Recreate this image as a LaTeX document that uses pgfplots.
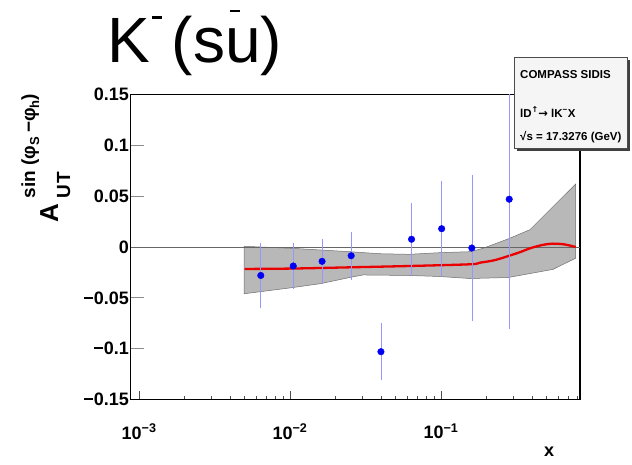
\documentclass[border=0pt]{standalone}
\usepackage{pgfplots}
\pgfplotsset{compat=1.18}
\usepackage{fontspec}
\setmainfont{Liberation Sans}
\newfontfamily\arrowfont{DejaVu Sans}

\definecolor{bandgray}{RGB}{184,184,184}
\definecolor{banddraw}{RGB}{110,110,110}
\definecolor{errblue}{RGB}{150,150,255}
\definecolor{pointblue}{RGB}{0,0,245}
\definecolor{curvered}{RGB}{235,0,0}

\begin{document}
\begin{tikzpicture}[x=1pt,y=1pt]
\useasboundingbox (0,0) rectangle (632,464);
\begin{axis}[
  at={(130.7pt,64.5pt)}, anchor=south west,
  scale only axis, width=449.3pt, height=305pt,
  xmode=log, xmin=8.8e-4, xmax=0.833,
  ymin=-0.15, ymax=0.15,
  axis line style={black, line width=1.3pt},
  xtick={0.001,0.01,0.1},
  xticklabels={10\textsuperscript{−3},10\textsuperscript{−2},10\textsuperscript{−1}},
  minor xtick={0.002,0.003,0.004,0.005,0.006,0.007,0.008,0.009,
               0.02,0.03,0.04,0.05,0.06,0.07,0.08,0.09,
               0.2,0.3,0.4,0.5,0.6,0.7,0.8},
  ytick={-0.15,-0.1,-0.05,0,0.05,0.1,0.15},
  yticklabels={−0.15,−0.1,−0.05,0,0.05,0.1,0.15},
  tick pos=left, tick align=inside,
  xtick style={black!70, line width=0.8pt, /pgfplots/major tick length=8.5pt, /pgfplots/minor tick length=4pt},
  ytick style={black!45, line width=0.9pt, /pgfplots/major tick length=13pt},
  ticklabel style={font=\fontsize{18}{18}\selectfont\bfseries},
  yticklabel style={inner sep=1.5pt},
  xticklabel style={yshift=-21pt},
  clip=true,
]
% uncertainty band of the fit
\addplot[fill=bandgray, draw=banddraw, line width=0.5pt] coordinates {
  (0.00496,0.0007) (0.0103,-0.0013) (0.0248,-0.0046) (0.039,-0.0066)
  (0.0614,-0.0072) (0.0975,-0.0056) (0.156,-0.0046) (0.19,-0.0013)
  (0.279,0.008) (0.388,0.017) (0.78,0.062)
  (0.78,-0.011) (0.552,-0.022) (0.279,-0.030) (0.156,-0.031)
  (0.0975,-0.029) (0.0614,-0.028) (0.0304,-0.0275) (0.0248,-0.030)
  (0.016,-0.036) (0.0103,-0.040) (0.00496,-0.046)
} -- cycle;
% zero line
\addplot[black!60, line width=0.9pt] coordinates {(8.8e-4,0) (0.833,0)};
% central fit curve
\addplot[curvered, line width=2.3pt, smooth] coordinates {
  (0.005,-0.0216) (0.0103,-0.0212) (0.0248,-0.0200) (0.0614,-0.0187)
  (0.156,-0.0170) (0.18,-0.0155) (0.226,-0.013) (0.279,-0.0089)
  (0.335,-0.005) (0.388,-0.0013) (0.47,0.002) (0.552,0.0033)
  (0.66,0.0025) (0.78,0.0)
};
% COMPASS data
\addplot[only marks, mark=*, mark size=3.3pt,
  mark options={draw=pointblue, fill=pointblue},
  error bars/.cd, y dir=both, y explicit, error mark=none,
  error bar style={errblue, line width=0.6pt}]
  coordinates {
  (0.0064,-0.028) +- (0,0.032)
  (0.0105,-0.0187) +- (0,0.0225)
  (0.0163,-0.0141) +- (0,0.022)
  (0.0254,-0.0086) +- (0,0.0235)
  (0.040,-0.103) +- (0,0.028)
  (0.0638,0.0076) +- (0,0.036)
  (0.101,0.018) +- (0,0.047)
  (0.160,-0.001) +- (0,0.072)
  (0.283,0.047) +- (0,0.128)
};
\end{axis}

% title
\node[anchor=base west, inner sep=0, font=\fontsize{64}{64}\selectfont] at (107,401)
  {K\hspace{2pt}\raisebox{44pt}{\rule{10pt}{2.6pt}}\hspace{10pt}(s\rlap{\hspace{4.5pt}\raisebox{50.6pt}{\rule{10pt}{2.7pt}}}u)};

% y axis title
\node[rotate=90, anchor=base west, inner sep=0] at (58,241)
  {\bfseries\fontsize{26}{26}\selectfont A\hspace{6pt}\rlap{\raisebox{-12pt}{\fontsize{19}{19}\selectfont U\hspace{1pt}T}}\raisebox{23pt}{\fontsize{19}{19}\selectfont sin\hspace{5pt}(φ\raisebox{-4pt}{\fontsize{13}{13}\selectfont S}\hspace{4pt}−φ\raisebox{-4pt}{\fontsize{13}{13}\selectfont h})}};

% x axis title
\node[font=\fontsize{18}{18}\selectfont\bfseries] at (549,12) {x};

% info box
\fill[black!75] (517,313) rectangle (630,404);
\filldraw[fill=black!4, draw=black!70, line width=0.8pt] (514,316) rectangle (627,407);
\node[anchor=west, inner sep=0, font=\fontsize{11.5}{11.5}\selectfont\bfseries] at (520,389) {COMPASS SIDIS};
\node[anchor=west, inner sep=0, font=\fontsize{11.5}{11.5}\selectfont\bfseries] at (520,352.3)
  {lD\raisebox{5pt}{\fontsize{8}{8}\selectfont\arrowfont ↑}{\arrowfont →} lK\textsuperscript{−}X};
\node[anchor=west, inner sep=0, font=\fontsize{11.5}{11.5}\selectfont\bfseries] at (520,326.7) {√s = 17.3276 (GeV)};
\end{tikzpicture}
\end{document}
